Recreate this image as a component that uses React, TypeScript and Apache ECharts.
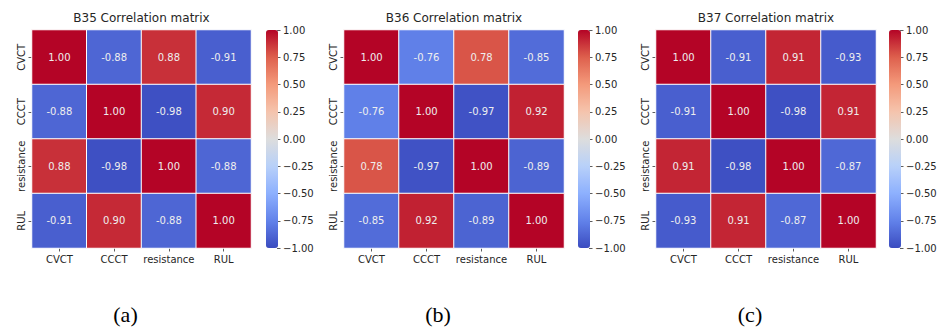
import React, { useEffect, useRef } from "react";
import * as echarts from "echarts";

const labels = ["CVCT", "CCCT", "resistance", "RUL"];
const titles = ["B35 Correlation matrix", "B36 Correlation matrix", "B37 Correlation matrix"];
const captions = ["(a)", "(b)", "(c)"];
const b35 = [
  [1.0, -0.88, 0.88, -0.91],
  [-0.88, 1.0, -0.98, 0.9],
  [0.88, -0.98, 1.0, -0.88],
  [-0.91, 0.9, -0.88, 1.0],
];
const b36 = [
  [1.0, -0.76, 0.78, -0.85],
  [-0.76, 1.0, -0.97, 0.92],
  [0.78, -0.97, 1.0, -0.89],
  [-0.85, 0.92, -0.89, 1.0],
];
const b37 = [
  [1.0, -0.91, 0.91, -0.93],
  [-0.91, 1.0, -0.98, 0.91],
  [0.91, -0.98, 1.0, -0.87],
  [-0.93, 0.91, -0.87, 1.0],
];
const matrices = [b35, b36, b37];
const coolwarm = ["#3b4cc0", "#6282ea", "#8db0fe", "#b8d0f9", "#dddddd", "#f5c4ad", "#f49a7b", "#de604d", "#b40426"];

const heatLeft = [32, 344, 656];
const heatWidth = [219, 220, 220];
const barLeft = [266, 578, 889];
const TOP = 30;
const H = 218;
const FONT = "DejaVu Sans";

export default function App() {
  const ref = useRef<HTMLDivElement>(null);
  useEffect(() => {
    document.body.style.margin = "0";
    const chart = echarts.init(ref.current!, null, { renderer: "svg" });
    const grids: any[] = [];
    const xAxes: any[] = [];
    const yAxes: any[] = [];
    const series: any[] = [];
    const visualMaps: any[] = [];
    const title: any[] = [];
    matrices.forEach((m, p) => {
      grids.push({ left: heatLeft[p], top: TOP, width: heatWidth[p], height: H });
      grids.push({ left: barLeft[p] + 11, top: TOP, width: 1, height: H });
      const gi = p * 2;
      xAxes.push({
        type: "category",
        gridIndex: gi,
        data: labels,
        axisLine: { show: false },
        axisTick: { show: true, alignWithLabel: true, interval: 0, length: 3.5, lineStyle: { color: "#333", width: 0.8 } },
        axisLabel: { interval: 0, fontFamily: FONT, fontSize: 10, color: "#262626", margin: 6 },
        splitLine: { show: false },
      });
      yAxes.push({
        type: "category",
        gridIndex: gi,
        data: labels,
        inverse: true,
        axisLine: { show: false },
        axisTick: { show: true, alignWithLabel: true, interval: 0, length: 3.5, lineStyle: { color: "#333", width: 0.8 } },
        axisLabel: { interval: 0, fontFamily: FONT, fontSize: 10, color: "#262626", rotate: 90, margin: 6 },
        splitLine: { show: false },
      });
      xAxes.push({ type: "value", gridIndex: gi + 1, show: false, min: 0, max: 1 });
      yAxes.push({
        type: "value",
        gridIndex: gi + 1,
        position: "right",
        min: -1,
        max: 1,
        interval: 0.25,
        axisLine: { show: false },
        axisTick: { show: true, length: 3.5, lineStyle: { color: "#333", width: 0.8 } },
        axisLabel: {
          fontFamily: FONT,
          fontSize: 10,
          color: "#262626",
          margin: 5,
          formatter: (v: number) => (v < 0 ? "\u2212" : "") + Math.abs(v).toFixed(2),
        },
        splitLine: { show: false },
      });
      const data: any[] = [];
      m.forEach((row, r) => row.forEach((v, c) => data.push([c, r, v])));
      series.push({
        type: "heatmap",
        xAxisIndex: p * 2,
        yAxisIndex: p * 2,
        data,
        itemStyle: { borderColor: "#ffffff", borderWidth: 1 },
        label: {
          show: true,
          fontFamily: FONT,
          fontSize: 10,
          color: "#eeeeee",
          formatter: (pp: any) => pp.value[2].toFixed(2),
        },
      });
      visualMaps.push({
        type: "continuous",
        seriesIndex: p,
        min: -1,
        max: 1,
        calculable: false,
        realtime: false,
        text: null,
        showLabel: false,
        left: barLeft[p],
        top: TOP,
        padding: 0,
        itemWidth: 12,
        itemHeight: H,
        inRange: { color: coolwarm },
        hoverLink: false,
      });
      title.push({
        text: titles[p],
        left: heatLeft[p] + heatWidth[p] / 2,
        top: 12,
        textAlign: "center",
        padding: 0,
        textStyle: { fontFamily: FONT, fontSize: 12, fontWeight: "normal", color: "#262626" },
      });
      title.push({
        text: captions[p],
        left: heatLeft[p] + heatWidth[p] / 2 - 16,
        top: 303,
        textAlign: "center",
        padding: 0,
        textStyle: { fontFamily: "Liberation Serif", fontSize: 22, fontWeight: "normal", color: "#000" },
      });
    });
    chart.setOption({
      animation: false,
      backgroundColor: "#ffffff",
      title,
      grid: grids,
      xAxis: xAxes,
      yAxis: yAxes,
      visualMap: visualMaps,
      series,
    });
    return () => chart.dispose();
  }, []);
  return <div ref={ref} style={{ width: 946, height: 331 }} />;
}
